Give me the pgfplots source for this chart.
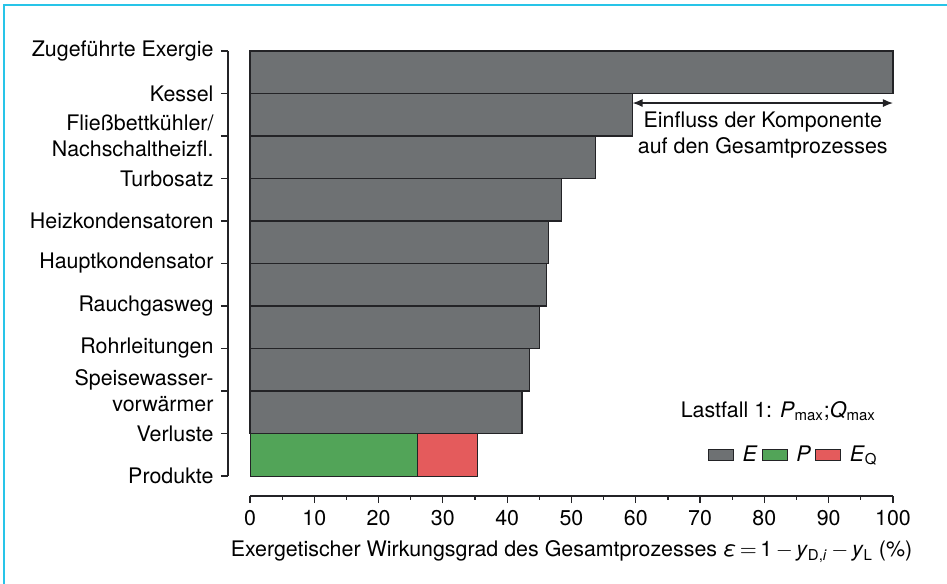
\documentclass[border=0pt]{standalone}
\usepackage{fontspec}
\setmainfont{TeX Gyre Heros}
\usepackage{pgfplots}
\pgfplotsset{compat=1.18}
\usetikzlibrary{arrows.meta}
\definecolor{egray}{RGB}{110,113,115}
\definecolor{pgreen}{RGB}{82,164,88}
\definecolor{eqred}{RGB}{228,91,92}
\definecolor{framecyan}{RGB}{40,196,232}
\definecolor{edge}{RGB}{35,35,38}
\begin{document}
\fontsize{10.7pt}{13pt}\selectfont
\begin{tikzpicture}
\begin{axis}[
  name=main,
  scale only axis, width=321.5pt, height=212.5pt,
  xmin=0, xmax=100, ymin=0, ymax=10,
  axis x line=bottom, axis y line=left,
  axis x line shift=10pt, axis y line shift=11pt,
  axis line style={-, line width=0.6pt, color=edge},
  xtick={0,10,...,100}, minor x tick num=1,
  ytick={0,...,10},
  yticklabels={Produkte, Verluste, {Speisewasser-\\vorwärmer}, Rohrleitungen, Rauchgasweg, Hauptkondensator, Heizkondensatoren, Turbosatz, {Fließbettkühler/\\Nachschaltheizfl.}, Kessel, Zugeführte Exergie},
  yticklabel style={align=right},
  tick align=outside, major tick length=3.5pt, minor tick length=1.75pt,
  tick style={line width=0.6pt, color=edge},
  /pgf/number format/assume math mode=true,
  xlabel={Exergetischer Wirkungsgrad des Gesamtprozesses \textit{ε}\,$=$\,1\,$-$\,\textit{y}\textsubscript{D,\textit{i}}\,$-$\,\textit{y}\textsubscript{L} (\%)},
  clip=false,
  legend image code/.code={\draw[#1] (0pt,-2.75pt) rectangle (12.5pt,2.75pt); \path (15pt,0pt);},
  legend style={at={(axis cs:99.2,0.494)}, anchor=east, draw=none, fill=none,
    legend columns=3, /tikz/every even column/.append style={column sep=0pt}},
]
\addplot[xbar, bar width=1, bar shift=0pt, fill=egray, draw=edge, line width=0.6pt, forget plot]
  coordinates {(100,9.5) (59.5,8.5) (53.7,7.5) (48.4,6.5) (46.4,5.5) (46.1,4.5) (45.0,3.5) (43.5,2.5) (42.3,1.5)};
\addplot[xbar, bar width=1, bar shift=0pt, fill=eqred, draw=edge, line width=0.4pt, forget plot]
  coordinates {(35.3,0.5)};
\addplot[xbar, bar width=1, bar shift=0pt, fill=pgreen, draw=edge, line width=0.4pt, forget plot]
  coordinates {(26.0,0.5)};
\addlegendimage{fill=egray, draw=edge}
\addlegendentry{\textit{E}}
\addlegendimage{fill=pgreen, draw=edge}
\addlegendentry{\textit{P}}
\addlegendimage{fill=eqred, draw=edge}
\addlegendentry{\textit{E}\textsubscript{Q}}
\draw[{Latex[length=5pt,width=4pt]}-{Latex[length=5pt,width=4pt]}, line width=0.6pt, color=edge]
  (axis cs:59.5,8.776) -- (axis cs:100,8.776);
\node[align=center, inner sep=0pt] at (axis cs:79.75,8.035)
  {Einfluss der Komponente\\auf den Gesamtprozesses};
\node[anchor=base east, inner sep=0pt] at (axis cs:97.4,1.388)
  {Lastfall 1: \textit{P}\textsubscript{max};\textit{Q}\textsubscript{max}};
\draw[framecyan, line width=1pt] (axis cs:108.4,11.082) -- (axis cs:-38.26,11.082) -- (axis cs:-38.26,-2.541);
\coordinate (tl) at (axis cs:-38.88,11.2);
\coordinate (br) at (axis cs:108.4,-2.541);
\end{axis}
\pgfresetboundingbox
\path[use as bounding box] (tl) rectangle (br);
\end{tikzpicture}
\end{document}
